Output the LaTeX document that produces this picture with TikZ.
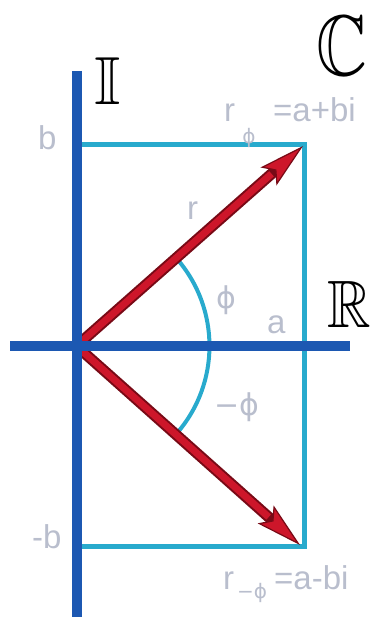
\documentclass[tikz,border=0pt]{standalone}
\usepackage{amssymb}
\usepackage{fontspec}
\setmainfont{Liberation Sans}
\newfontfamily\dejavu{DejaVu Sans}
\usetikzlibrary{arrows.meta}
\definecolor{axisblue}{RGB}{28,88,178}
\definecolor{rectcyan}{RGB}{40,170,205}
\definecolor{arrowred}{RGB}{205,22,42}
\definecolor{darkred}{RGB}{120,10,22}
\definecolor{lbl}{RGB}{185,190,205}
\tikzset{
  axis/.style={draw=axisblue, line width=10pt},
  rectline/.style={draw=rectcyan, line width=5pt, line join=miter},
  arcline/.style={draw=rectcyan, line width=4pt},
  vecout/.style={draw=darkred, line width=11pt,
    -{Stealth[length=46pt,width=24pt,inset=9pt,fill=arrowred,line width=1.2pt]}},
  vecin/.style={draw=arrowred, line width=7pt, shorten >=42pt},
  lab/.style={text=lbl, inner sep=0pt, font=\fontsize{33}{33}\selectfont},
  sublab/.style={text=lbl, inner sep=0pt, font=\dejavu\fontsize{20}{20}\selectfont},
  bb/.style={text=black, inner sep=0pt},
}
\begin{document}
\begin{tikzpicture}[x=1pt,y=-1pt]
\useasboundingbox (0,0) rectangle (372,617);
% coordinates
\coordinate (O) at (76.5,346);
\coordinate (P) at (303,146);
\coordinate (Q) at (300,545);
\coordinate (Bt) at (76.5,145);
\coordinate (Bb) at (76.5,546);
\coordinate (Ct) at (304,145);
\coordinate (Cb) at (304,546);
\coordinate (Vt) at (76.5,71);
\coordinate (Vb) at (76.5,620);
\coordinate (Hl) at (10,346);
\coordinate (Hr) at (350,346);
% rectangle lines
\draw[rectline] (Bt) -- (Ct) -- (Cb) -- (Bb);
% angle arc
\draw[arcline] (O) ++(-41.4:133) arc[start angle=-41.4, end angle=41.4, radius=133];
% vectors
\draw[vecout] (O) -- (P);
\draw[vecin] (O) -- (P);
\draw[vecout] (O) -- (Q);
\draw[vecin] (O) -- (Q);
% axes
\draw[axis] (Vt) -- (Vb);
\draw[axis] (Hl) -- (Hr);
% blackboard labels
\node[bb, xscale=0.82, anchor=east, font=\fontsize{86}{86}\selectfont] (C) at (368,46) {$\mathbb{C}$};
\node[bb, font=\fontsize{68}{68}\selectfont] (I) at (108,81) {$\mathbb{I}$};
\node[bb, xscale=0.9, anchor=east, font=\fontsize{67}{67}\selectfont] (R) at (371.5,304) {$\mathbb{R}$};
% gray labels
\node[lab, anchor=base west] (b) at (38,150) {b};
\node[lab, anchor=base west] (mb) at (32,548) {-b};
\node[lab, anchor=base west] (r) at (187,220) {r};
\node[lab, anchor=base west] (a) at (267,333) {a};
\node[lab, font=\dejavu\fontsize{30}{30}\selectfont] (phi) at (226,300) {ϕ};
\node[lab, font=\dejavu\fontsize{30}{30}\selectfont] (mphi) at (237,407) {−ϕ};
% r_phi = a+bi
\node[lab, anchor=base west] (r1) at (224,122) {r};
\node[sublab] (s1) at (249,138) {ϕ};
\node[lab, anchor=base west] (e1) at (273,122) {=a+bi};
% r_{-phi} = a-bi
\node[lab, anchor=base west] (r2) at (223,589) {r};
\node[sublab] (s2) at (252,593) {−ϕ};
\node[lab, anchor=base west] (e2) at (274,589) {=a-bi};
\end{tikzpicture}
\end{document}
